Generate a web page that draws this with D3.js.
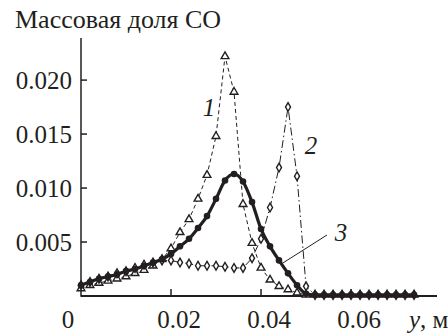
<!DOCTYPE html>
<html><head><meta charset="utf-8">
<script src="https://cdn.jsdelivr.net/npm/d3@7"></script>
<style>body{margin:0;background:#fff}svg{display:block}</style>
</head><body><svg id="c" width="448" height="335" font-family="'Liberation Serif', 'Times New Roman', Tinos, 'DejaVu Serif', serif"></svg>
<script>
const yPos = [0,0.002,0.004,0.006,0.008,0.010,0.012,0.014,0.016,0.018,0.020,0.022,0.024,0.026,0.028,0.030,0.032,0.034,0.036,0.038,0.040,0.042,0.044,0.046,0.048,0.050,0.052,0.054,0.056,0.058,0.060,0.062,0.064,0.066,0.068,0.070,0.072,0.074];
const series1 = [0.0007,0.0010,0.0012,0.0014,0.0016,0.0018,0.0021,0.0024,0.0028,0.0034,0.0044,0.0059,0.0071,0.0090,0.0112,0.0148,0.0222,0.0189,0.0085,0.0049,0.0026,0.0015,0.0009,0.0006,0.0003,0.0001,0.0001,0.0001,0.0001,0.0001,0.0001,0.0001,0.0001,0.0001,0.0001,0.0001,0.0001,0.0001];
const series2 = [0.0010,0.0013,0.0016,0.0018,0.0021,0.0023,0.0026,0.0029,0.0031,0.0033,0.0033,0.0031,0.0030,0.0028,0.0028,0.0028,0.0027,0.0026,0.0026,0.0035,0.0053,0.0082,0.0119,0.0175,0.0111,0.0009,0.0001,0.0001,0.0001,0.0001,0.0001,0.0001,0.0001,0.0001,0.0001,0.0001,0.0001,0.0001];
const series3 = [0.0010,0.0013,0.0016,0.0018,0.0020,0.0023,0.0025,0.0028,0.0031,0.0034,0.0039,0.0046,0.0053,0.0063,0.0074,0.0090,0.0107,0.0113,0.0106,0.0087,0.0062,0.0046,0.0033,0.0021,0.0010,0.0002,0.0001,0.0001,0.0001,0.0001,0.0001,0.0001,0.0001,0.0001,0.0001,0.0001,0.0001,0.0001];
const xTicks = [0.02,0.04,0.06];
const xTickLabels = ["0.02","0.04","0.06"];
const yTicks = [0.005,0.010,0.015,0.020];
const yTickLabels = ["0.005","0.010","0.015","0.020"];
const curveLabels = ["1","2","3"];
const title = "Массовая доля СО";
const xTitle = ["y", ", м"];

const svg = d3.select("#c");
const x = d3.scaleLinear().domain([0,0.0791]).range([81,437]);
const y = d3.scaleLinear().domain([0,0.0239]).range([296,38]);
const ink = "#231f20";

// axes
svg.append("line").attr("x1",81).attr("x2",81).attr("y1",y(0.0239)).attr("y2",y(0)+0.75).attr("stroke",ink).attr("stroke-width",1.5);
svg.append("line").attr("x1",x(0)).attr("x2",x(0.0791)).attr("y1",y(0)).attr("y2",y(0)).attr("stroke",ink).attr("stroke-width",1.8);
yTicks.forEach((t,i)=>{
  svg.append("line").attr("x1",x(0)).attr("x2",x(0)+6).attr("y1",y(t)).attr("y2",y(t)).attr("stroke",ink).attr("stroke-width",1.5);
  svg.append("text").attr("x",72).attr("y",y(t)).attr("dy","0.35em").attr("text-anchor","end").attr("font-size",25).attr("fill",ink).text(yTickLabels[i]);
});
xTicks.forEach((t,i)=>{
  svg.append("line").attr("x1",x(t)).attr("x2",x(t)).attr("y1",y(0)).attr("y2",y(0)-7).attr("stroke",ink).attr("stroke-width",1.5);
  svg.append("text").attr("x",x(t)+8).attr("y",328).attr("text-anchor","middle").attr("font-size",25).attr("fill",ink).text(xTickLabels[i]);
});
svg.append("text").attr("x",x(0)-13).attr("y",328).attr("text-anchor","middle").attr("font-size",25).attr("fill",ink).text("0");
const xt = svg.append("text").attr("x",409).attr("y",328).attr("font-size",25).attr("fill",ink);
xt.append("tspan").attr("font-style","italic").text(xTitle[0]);
xt.append("tspan").text(xTitle[1]);
svg.append("text").attr("x",15).attr("y",28).attr("font-size",26).attr("fill",ink).text(title);

const pts = s => yPos.map((p,i)=>[p,s[i]]);
const lin = d3.line().x(d=>x(d[0])).y(d=>y(d[1]));
const smooth = d3.line().x(d=>x(d[0])).y(d=>y(d[1])).curve(d3.curveMonotoneX);

svg.append("path").attr("d",lin(pts(series1))).attr("fill","none").attr("stroke",ink).attr("stroke-width",1).attr("stroke-dasharray","4,3");
svg.append("path").attr("d",lin(pts(series2))).attr("fill","none").attr("stroke",ink).attr("stroke-width",1).attr("stroke-dasharray","8,3,1.5,3");
svg.append("path").attr("d",smooth(pts(series3))).attr("fill","none").attr("stroke",ink).attr("stroke-width",3.2);

// markers
const tri = d3.symbol().type(d3.symbolTriangle).size(26);
const dia = d3.symbol().type(d3.symbolDiamond).size(22);
svg.append("g").selectAll("path").data(pts(series1)).join("path").attr("d",tri)
  .attr("transform",d=>`translate(${x(d[0])},${y(d[1])})`).attr("fill","#fff").attr("stroke",ink).attr("stroke-width",1.4);
svg.append("g").selectAll("path").data(pts(series2)).join("path").attr("d",dia)
  .attr("transform",d=>`translate(${x(d[0])},${y(d[1])})`).attr("fill","#fff").attr("stroke",ink).attr("stroke-width",1.4);
svg.append("g").selectAll("circle").data(pts(series3)).join("circle")
  .attr("cx",d=>x(d[0])).attr("cy",d=>y(d[1])).attr("r",3.3).attr("fill",ink);

// curve labels
const lblPos = [[209,107],[311,145],[341,232]];
curveLabels.forEach((l,i)=>{
  svg.append("text").attr("x",lblPos[i][0]).attr("y",lblPos[i][1]).attr("dy","0.35em").attr("text-anchor","middle").attr("font-style","italic").attr("font-size",25).attr("fill",ink).text(l);
});
svg.append("line").attr("x1",327).attr("y1",235).attr("x2",x(0.0445)).attr("y2",264).attr("stroke",ink).attr("stroke-width",1);
</script></body></html>
